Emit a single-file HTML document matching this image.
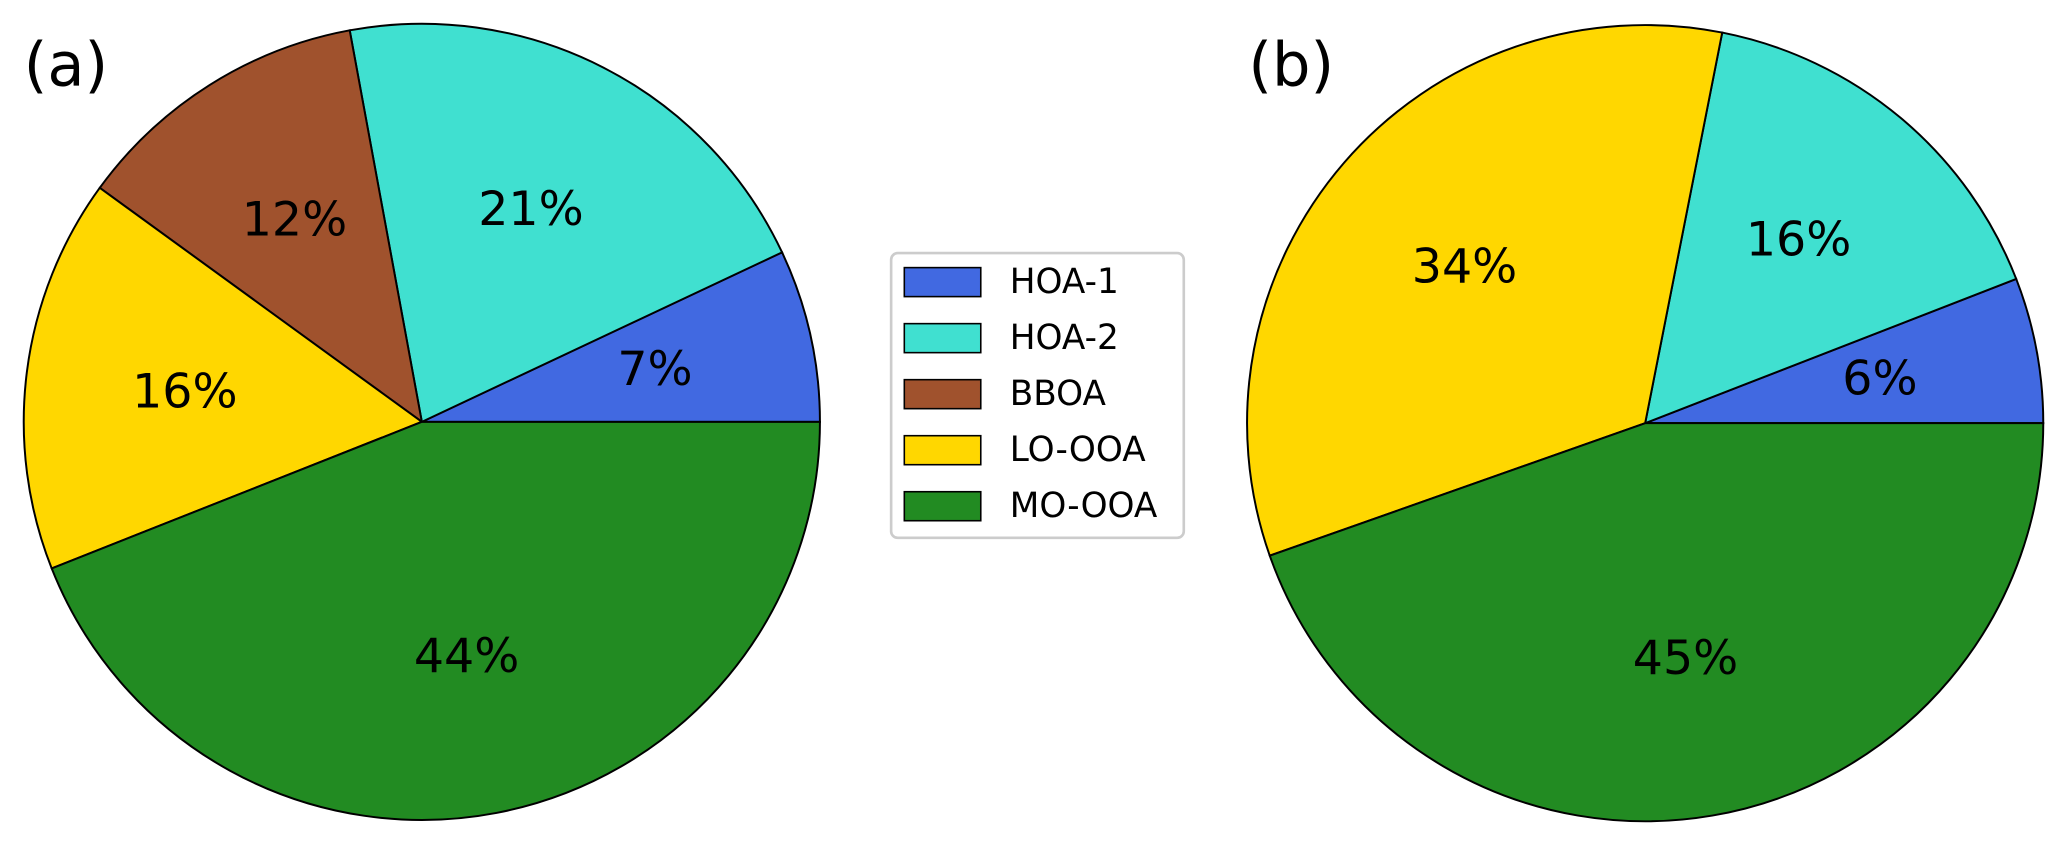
<!DOCTYPE html>
<html><head><meta charset="utf-8"><style>
body{margin:0;background:#fff;}
svg{display:block;font-family:"DejaVu Sans","Liberation Sans",sans-serif;}
</style></head><body>
<svg id="chart" width="2067" height="847" viewBox="0 0 1568 642.5" xmlns="http://www.w3.org/2000/svg">
<text x="18" y="65" font-size="46">(a)</text>
<text x="947" y="65" font-size="46">(b)</text>
<g id="pies"></g>
<g id="legend">
<rect x="676" y="192" width="222" height="216" rx="5" fill="#fff" stroke="#ccc" stroke-width="2"/>
</g>
</svg>
<script>
const categories = ["HOA-1","HOA-2","BBOA","LO-OOA","MO-OOA"];
const colors = ["#4169E1","#40E0D0","#A0522D","#FFD700","#228B22"];
const valuesA = [7.0, 20.9, 12.1, 16.0, 44.0];
const valuesB = [5.9, 16.0, 0, 33.5, 44.6];
const labelsA = ["7%","21%","12%","16%","44%"];
const labelsB = ["6%","16%","","34%","45%"];
const NS = "http://www.w3.org/2000/svg";
const pies = document.getElementById('pies');
function drawPie(vals, labels, cx, cy, r, tag){
  const total = vals.reduce((a,b)=>a+b,0);
  let cum = 0;
  vals.forEach((v,i)=>{
    if(v<=0){return;}
    const a0 = cum/total*2*Math.PI, a1=(cum+v)/total*2*Math.PI;
    cum += v;
    const x0=cx+r*Math.cos(a0), y0=cy-r*Math.sin(a0), x1=cx+r*Math.cos(a1), y1=cy-r*Math.sin(a1);
    const large = (a1-a0)>Math.PI?1:0;
    const p = document.createElementNS(NS,'path');
    p.setAttribute('d',`M${cx},${cy} L${x0},${y0} A${r},${r} 0 ${large} 0 ${x1},${y1} Z`);
    p.setAttribute('fill',colors[i]);p.setAttribute('stroke','#000');p.setAttribute('stroke-width','1.5');
    
    
    pies.appendChild(p);
    const am=(a0+a1)/2;
    const t=document.createElementNS(NS,'text');
    t.setAttribute('x',cx+0.6*r*Math.cos(am));t.setAttribute('y',cy-0.6*r*Math.sin(am));
    t.setAttribute('text-anchor','middle');t.setAttribute('dominant-baseline','central');
    t.setAttribute('font-size','36');
    t.textContent=labels[i];
    
    
    pies.appendChild(t);
  });
}
drawPie(valuesA, labelsA, 320, 320, 302, 'a');
drawPie(valuesB, labelsB, 1248, 321, 302, 'b');
const lg=document.getElementById('legend');
categories.forEach((c,i)=>{
  const y=214+i*42.5;
  const r=document.createElementNS(NS,'rect');
  r.setAttribute('x',686);r.setAttribute('y',y-11);r.setAttribute('width',58);r.setAttribute('height',22);
  r.setAttribute('fill',colors[i]);r.setAttribute('stroke','#000');r.setAttribute('stroke-width','1.2');
  
  
  lg.appendChild(r);
  const t=document.createElementNS(NS,'text');
  t.setAttribute('x',766);t.setAttribute('y',y);t.setAttribute('dominant-baseline','central');t.setAttribute('font-size','26');
  t.textContent=c;
  
  
  lg.appendChild(t);
});
</script>
</body></html>
